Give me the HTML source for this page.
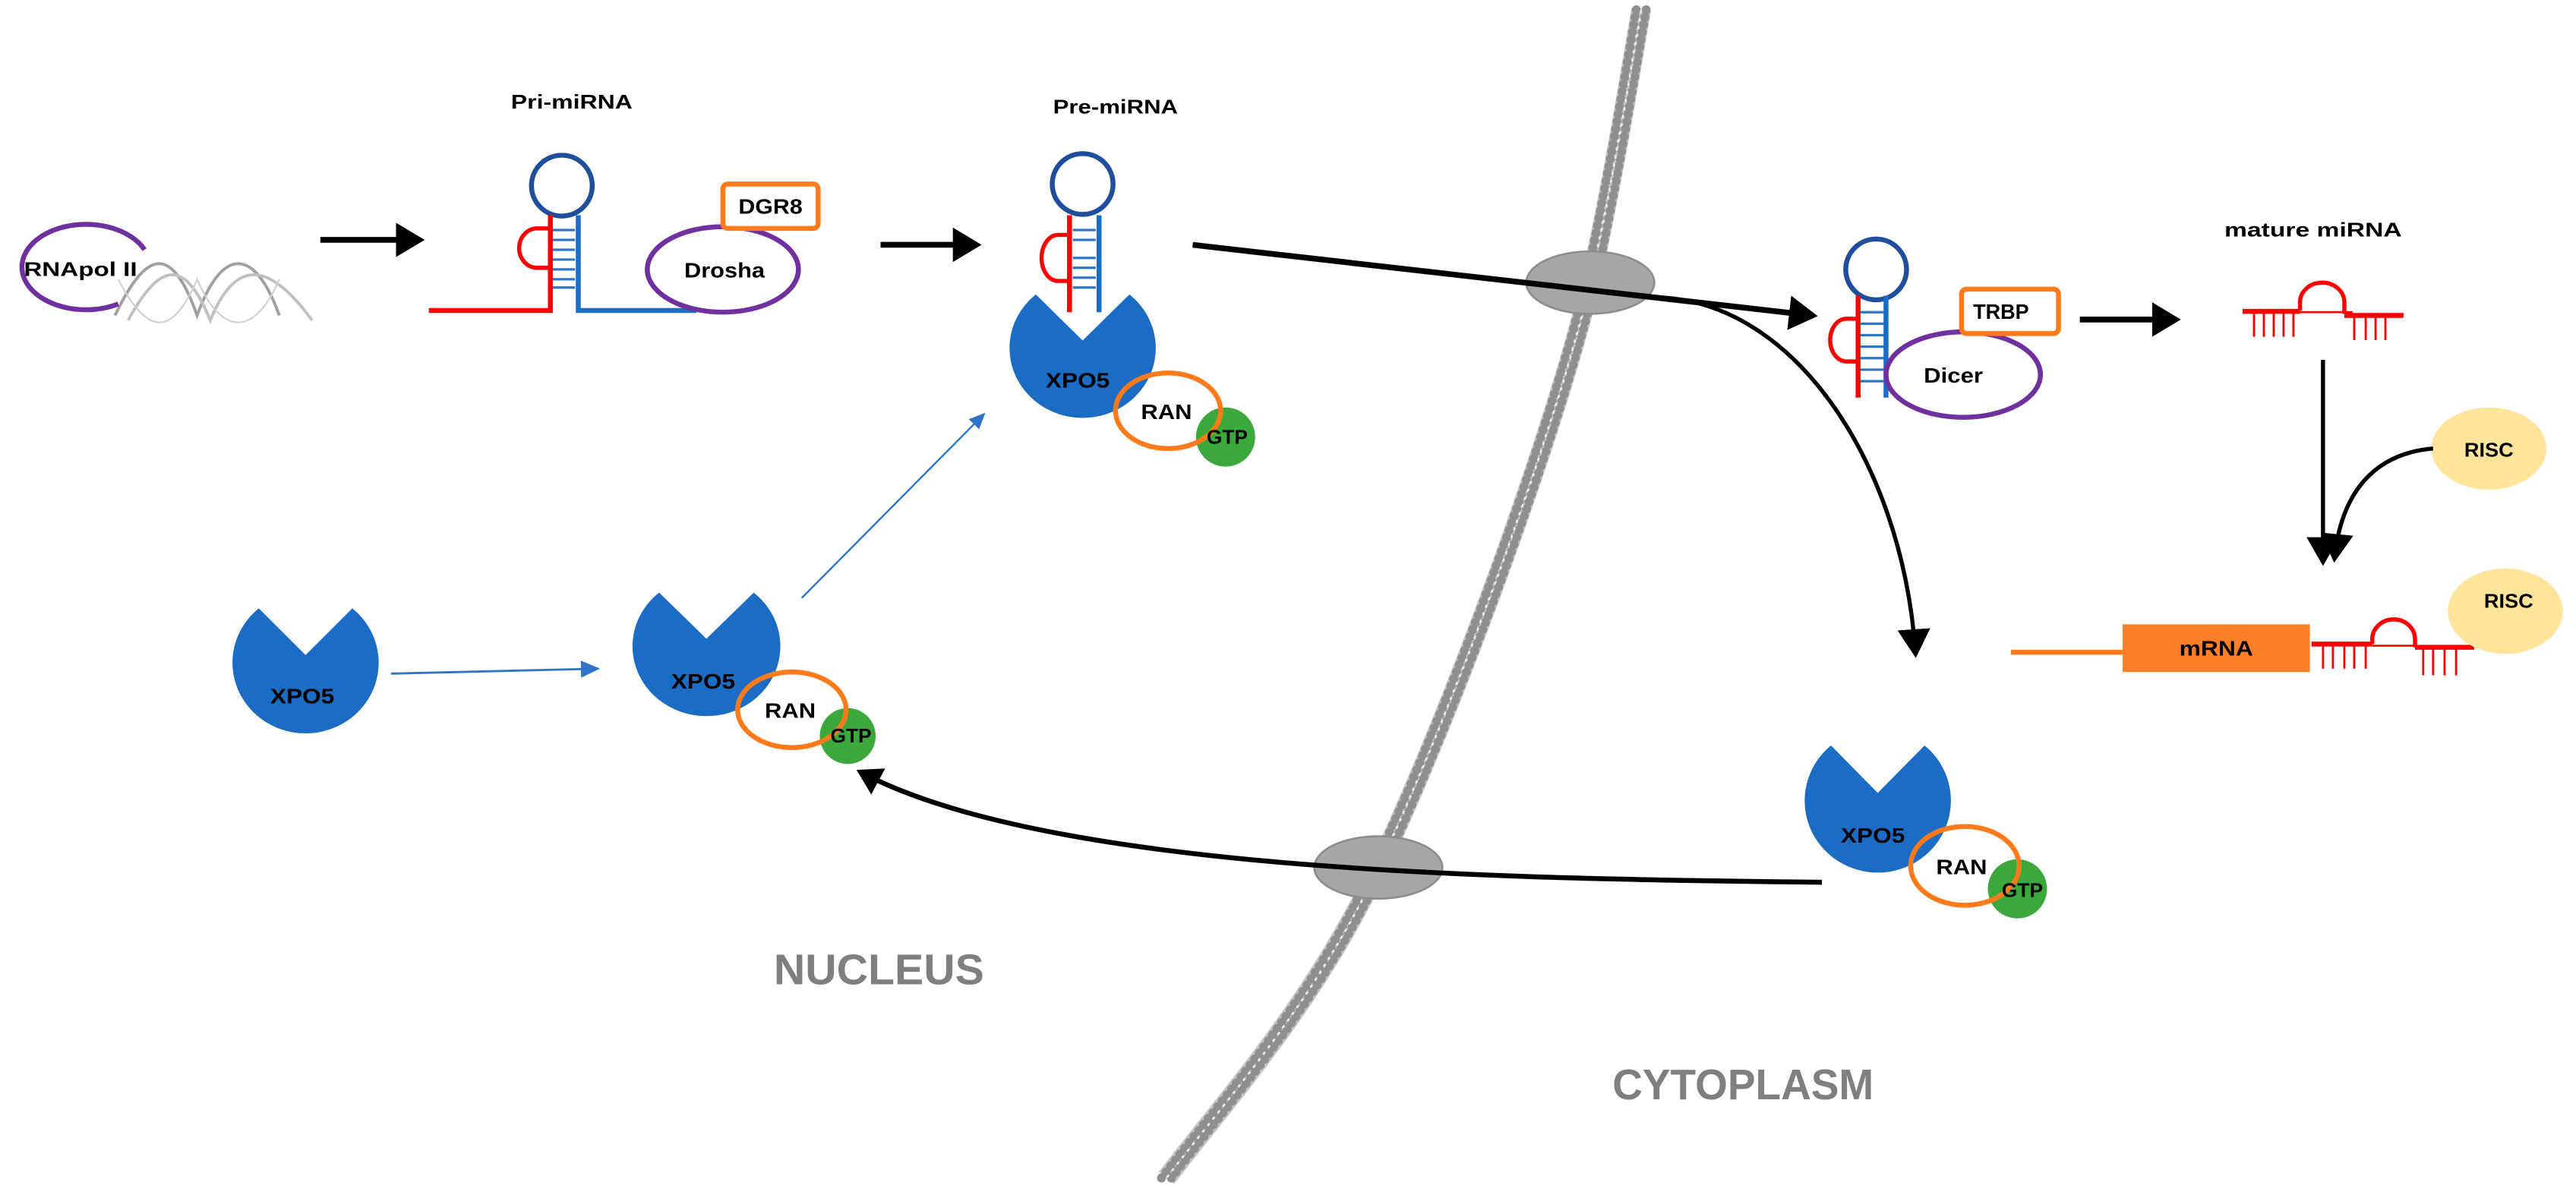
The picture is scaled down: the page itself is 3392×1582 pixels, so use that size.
<!DOCTYPE html>
<html><head><meta charset="utf-8"><style>
html,body{margin:0;padding:0;background:#fff;}
svg{display:block;}
text{font-family:"Liberation Sans",sans-serif;font-weight:bold;}
</style></head><body>
<svg width="3392" height="1582" viewBox="0 0 1568 731" preserveAspectRatio="none" xmlns="http://www.w3.org/2000/svg">
<defs>
<marker id="ab" markerWidth="6" markerHeight="6" refX="4" refY="3" orient="auto" markerUnits="strokeWidth"><path d="M0,0 L5,3 L0,6 Z" fill="#000"/></marker>
<marker id="ab2" markerWidth="8" markerHeight="8" refX="6" refY="4" orient="auto" markerUnits="strokeWidth"><path d="M0,0 L7,4 L0,8 Z" fill="#000"/></marker>
<marker id="abl" markerWidth="10" markerHeight="10" refX="8" refY="5" orient="auto" markerUnits="strokeWidth"><path d="M0,1 L9,5 L0,9 Z" fill="#2e75c8"/></marker>
<path id="pac" d="M-32,-38 L0,-5 L32,-38 A50 50 0 1 1 -32,-38 Z" fill="#1a6cc4"/>
<path id="memp" d="M999,6 C994,34 982,110 968,172 C950,250 890,420 839,528 C800,610 750,665 710,717"/>
</defs>
<rect width="1568" height="731" fill="#fff"/>

<!-- membrane -->
<g fill="none">
<use href="#memp" stroke="#c4c4c4" stroke-width="12"/>
<use href="#memp" transform="translate(-3,0)" stroke="#8f8f8f" stroke-width="5.5" stroke-linecap="round" stroke-dasharray="0.1 4.5"/>
<use href="#memp" transform="translate(3,0)" stroke="#8f8f8f" stroke-width="5.5" stroke-linecap="round" stroke-dasharray="0.1 4.5"/>
<use href="#memp" stroke="#eeeeee" stroke-width="1.2" stroke-dasharray="2 3"/>
</g>
<ellipse cx="968" cy="172" rx="39" ry="19" fill="#a6a6a6" stroke="#8c8c8c" stroke-width="1.2"/>
<ellipse cx="839" cy="528" rx="39" ry="19" fill="#a6a6a6" stroke="#8c8c8c" stroke-width="1.2"/>

<!-- RNApol II + DNA -->
<g fill="none" stroke-width="1.8">
<path d="M70,192 C90,150 105,150 120,192 C135,150 155,150 170,192" stroke="#a0a0a0"/>
<path d="M78,195 C98,158 113,158 128,195 C143,158 163,158 190,195" stroke="#c0c0c0"/>
<path d="M72,170 C90,205 105,205 120,170 C135,205 155,205 170,170" stroke="#d0d0d0" stroke-width="1"/>
</g>
<path d="M88,152 A39 26 0 1 0 72,185" fill="none" stroke="#7030a0" stroke-width="3"/>
<text x="49" y="168" font-size="12" text-anchor="middle" textLength="69" lengthAdjust="spacingAndGlyphs">RNApol II</text>

<line x1="195" y1="146" x2="255" y2="146" stroke="#000" stroke-width="3.5" marker-end="url(#ab)"/>

<!-- Pri-miRNA -->
<text x="348" y="66" font-size="12" text-anchor="middle" textLength="74" lengthAdjust="spacingAndGlyphs">Pri-miRNA</text>
<circle cx="342" cy="113" r="18.5" fill="none" stroke="#1f4e9c" stroke-width="3"/>
<g stroke="#2e75c8" stroke-width="1.5">
<line x1="336" y1="140" x2="350" y2="140"/><line x1="336" y1="146" x2="350" y2="146"/><line x1="336" y1="152" x2="350" y2="152"/><line x1="336" y1="158" x2="350" y2="158"/><line x1="336" y1="164" x2="350" y2="164"/><line x1="336" y1="170" x2="350" y2="170"/><line x1="336" y1="175" x2="350" y2="175"/>
</g>
<path d="M335,131 L335,189 L261,189" fill="none" stroke="#f00" stroke-width="3"/>
<path d="M334,139 L327,139 A11 12 0 0 0 327,163 L334,163" fill="none" stroke="#f00" stroke-width="2.5"/>
<path d="M352,131 L352,189 L424,189" fill="none" stroke="#1a6cc4" stroke-width="3"/>
<ellipse cx="440" cy="164" rx="46" ry="26" fill="none" stroke="#7030a0" stroke-width="3"/>
<text x="441" y="169" font-size="13" text-anchor="middle" textLength="49" lengthAdjust="spacingAndGlyphs">Drosha</text>
<rect x="440" y="112" width="58" height="27" rx="3" fill="#fff" stroke="#ff7a1a" stroke-width="3"/>
<text x="469" y="130" font-size="13" text-anchor="middle" textLength="39" lengthAdjust="spacingAndGlyphs">DGR8</text>

<line x1="536" y1="149" x2="594" y2="149" stroke="#000" stroke-width="3.5" marker-end="url(#ab)"/>

<!-- Pre-miRNA -->
<text x="679" y="69" font-size="12" text-anchor="middle" textLength="76" lengthAdjust="spacingAndGlyphs">Pre-miRNA</text>
<use href="#pac" transform="translate(659,211.5) scale(0.89,0.85)"/>
<circle cx="659" cy="112" r="18.5" fill="none" stroke="#1f4e9c" stroke-width="3"/>
<g stroke="#2e75c8" stroke-width="1.5">
<line x1="653" y1="140" x2="667" y2="140"/><line x1="653" y1="146" x2="667" y2="146"/><line x1="653" y1="157" x2="667" y2="157"/><line x1="653" y1="163" x2="667" y2="163"/><line x1="653" y1="169" x2="667" y2="169"/><line x1="653" y1="175" x2="667" y2="175"/>
</g>
<line x1="651" y1="131" x2="651" y2="190" stroke="#f00" stroke-width="3"/>
<path d="M650,143 L644,143 A10 14 0 0 0 644,171 L650,171" fill="none" stroke="#f00" stroke-width="2.5"/>
<line x1="669" y1="131" x2="669" y2="190" stroke="#1a6cc4" stroke-width="3"/>
<text x="656" y="236" font-size="13" text-anchor="middle" textLength="39" lengthAdjust="spacingAndGlyphs">XPO5</text>
<circle cx="746" cy="266" r="18" fill="#3aa83a"/>
<ellipse cx="711" cy="250" rx="32" ry="23" fill="none" stroke="#ff7a1a" stroke-width="3"/>
<text x="710" y="255" font-size="13" text-anchor="middle" textLength="31" lengthAdjust="spacingAndGlyphs">RAN</text>
<text x="747" y="270" font-size="12" text-anchor="middle" textLength="25" lengthAdjust="spacingAndGlyphs">GTP</text>

<!-- long arrow -->
<line x1="726" y1="149" x2="1103" y2="192" stroke="#000" stroke-width="3.5" marker-end="url(#ab)"/>
<path d="M1005,181 C1090,180 1158,280 1166,398" fill="none" stroke="#000" stroke-width="2.5" marker-end="url(#ab2)"/>

<!-- Dicer -->
<circle cx="1142" cy="164" r="18.5" fill="none" stroke="#1f4e9c" stroke-width="3"/>
<g stroke="#2e75c8" stroke-width="1.5">
<line x1="1132" y1="190" x2="1147" y2="190"/><line x1="1132" y1="197" x2="1147" y2="197"/><line x1="1132" y1="204" x2="1147" y2="204"/><line x1="1132" y1="211" x2="1147" y2="211"/><line x1="1132" y1="218" x2="1147" y2="218"/><line x1="1132" y1="225" x2="1147" y2="225"/><line x1="1132" y1="232" x2="1147" y2="232"/>
</g>
<line x1="1131" y1="180" x2="1131" y2="242" stroke="#f00" stroke-width="3"/>
<path d="M1130,194 L1124,194 A10 13 0 0 0 1124,220 L1130,220" fill="none" stroke="#f00" stroke-width="2.5"/>
<line x1="1148" y1="180" x2="1148" y2="242" stroke="#1a6cc4" stroke-width="3"/>
<ellipse cx="1195" cy="228" rx="47" ry="26" fill="none" stroke="#7030a0" stroke-width="3"/>
<text x="1189" y="233" font-size="13" text-anchor="middle" textLength="36" lengthAdjust="spacingAndGlyphs">Dicer</text>
<rect x="1194" y="176" width="59" height="27" rx="3" fill="#fff" stroke="#ff7a1a" stroke-width="3"/>
<text x="1218" y="194" font-size="13" text-anchor="middle" textLength="34" lengthAdjust="spacingAndGlyphs">TRBP</text>

<line x1="1266" y1="194.5" x2="1324" y2="194.5" stroke="#000" stroke-width="3.5" marker-end="url(#ab)"/>

<!-- mature miRNA -->
<text x="1408" y="144" font-size="12" text-anchor="middle" textLength="108" lengthAdjust="spacingAndGlyphs">mature miRNA</text>
<g stroke="#f00" fill="none">
<path d="M1365,189.5 L1400,189.5" stroke-width="3"/>
<path d="M1400,189 L1400,184 A13.5 12 0 0 1 1427,184 L1427,191" stroke-width="2.5"/>
<path d="M1400,190 L1432,190" stroke-width="1.2"/>
<path d="M1427,192 L1463,192" stroke-width="3"/>
<g stroke-width="1.3"><line x1="1372" y1="189" x2="1372" y2="205"/><line x1="1378" y1="189" x2="1378" y2="205"/><line x1="1384" y1="189" x2="1384" y2="205"/><line x1="1390" y1="189" x2="1390" y2="205"/><line x1="1396" y1="189" x2="1396" y2="205"/><line x1="1433" y1="192" x2="1433" y2="207"/><line x1="1440" y1="192" x2="1440" y2="207"/><line x1="1446" y1="192" x2="1446" y2="207"/><line x1="1452" y1="192" x2="1452" y2="207"/></g>
</g>

<line x1="1414" y1="219" x2="1414" y2="342" stroke="#000" stroke-width="2.5" marker-end="url(#ab2)"/>
<ellipse cx="1515" cy="273" rx="35" ry="25" fill="#ffe599"/>
<text x="1515" y="278" font-size="12" text-anchor="middle" textLength="30" lengthAdjust="spacingAndGlyphs">RISC</text>
<path d="M1481,273 C1445,276 1425,300 1421,340" fill="none" stroke="#000" stroke-width="2.5" marker-end="url(#ab2)"/>

<!-- mRNA -->
<line x1="1224" y1="397" x2="1292" y2="397" stroke="#ff7a1a" stroke-width="3"/>
<rect x="1292" y="380" width="114" height="29" fill="#ff7f27"/>
<text x="1349" y="399" font-size="13" text-anchor="middle" textLength="45" lengthAdjust="spacingAndGlyphs">mRNA</text>
<g stroke="#f00" fill="none">
<path d="M1407,392 L1444,392" stroke-width="3"/>
<path d="M1444,392 L1444,389 A13 12 0 0 1 1470,389 L1470,394" stroke-width="2.5"/>
<path d="M1444,393 L1470,393" stroke-width="1.2"/>
<path d="M1470,394 L1506,394" stroke-width="3"/>
<g stroke-width="1.3"><line x1="1414" y1="392" x2="1414" y2="407"/><line x1="1420" y1="392" x2="1420" y2="407"/><line x1="1427" y1="392" x2="1427" y2="407"/><line x1="1433" y1="392" x2="1433" y2="407"/><line x1="1440" y1="392" x2="1440" y2="407"/><line x1="1475" y1="394" x2="1475" y2="411"/><line x1="1481" y1="394" x2="1481" y2="411"/><line x1="1488" y1="394" x2="1488" y2="411"/><line x1="1495" y1="394" x2="1495" y2="411"/></g>
</g>
<ellipse cx="1525" cy="372" rx="35" ry="26" fill="#ffe599"/>
<text x="1527" y="370" font-size="12" text-anchor="middle" textLength="30" lengthAdjust="spacingAndGlyphs">RISC</text>

<!-- left XPO5 -->
<use href="#pac" transform="translate(186,403) scale(0.89,0.86)"/>
<text x="184" y="428" font-size="13" text-anchor="middle" textLength="39" lengthAdjust="spacingAndGlyphs">XPO5</text>
<line x1="238" y1="410" x2="364" y2="407" stroke="#2e75c8" stroke-width="1.3" marker-end="url(#abl)"/>

<!-- mid XPO5 -->
<use href="#pac" transform="translate(430,393) scale(0.9,0.85)"/>
<text x="428" y="419" font-size="13" text-anchor="middle" textLength="39" lengthAdjust="spacingAndGlyphs">XPO5</text>
<circle cx="516" cy="448" r="17" fill="#3aa83a"/>
<ellipse cx="482" cy="432" rx="33" ry="23" fill="none" stroke="#ff7a1a" stroke-width="3"/>
<text x="481" y="437" font-size="13" text-anchor="middle" textLength="31" lengthAdjust="spacingAndGlyphs">RAN</text>
<text x="518" y="452" font-size="12" text-anchor="middle" textLength="25" lengthAdjust="spacingAndGlyphs">GTP</text>
<line x1="488" y1="364" x2="599" y2="252" stroke="#2e75c8" stroke-width="1.1" marker-end="url(#abl)"/>

<!-- right XPO5 -->
<use href="#pac" transform="translate(1143,487) scale(0.89,0.875)"/>
<text x="1140" y="513" font-size="13" text-anchor="middle" textLength="39" lengthAdjust="spacingAndGlyphs">XPO5</text>
<circle cx="1228" cy="541" r="18" fill="#3aa83a"/>
<ellipse cx="1196" cy="527" rx="33" ry="24" fill="none" stroke="#ff7a1a" stroke-width="3"/>
<text x="1194" y="532" font-size="13" text-anchor="middle" textLength="31" lengthAdjust="spacingAndGlyphs">RAN</text>
<text x="1231" y="546" font-size="12" text-anchor="middle" textLength="25" lengthAdjust="spacingAndGlyphs">GTP</text>

<path d="M1109,537 C930,535 640,532 524,470" fill="none" stroke="#000" stroke-width="3" marker-end="url(#ab)"/>

<text x="535" y="599" font-size="26" fill="#7f7f7f" text-anchor="middle" textLength="128" lengthAdjust="spacingAndGlyphs">NUCLEUS</text>
<text x="1061" y="669" font-size="26" fill="#7f7f7f" text-anchor="middle" textLength="159" lengthAdjust="spacingAndGlyphs">CYTOPLASM</text>
</svg>
</body></html>
